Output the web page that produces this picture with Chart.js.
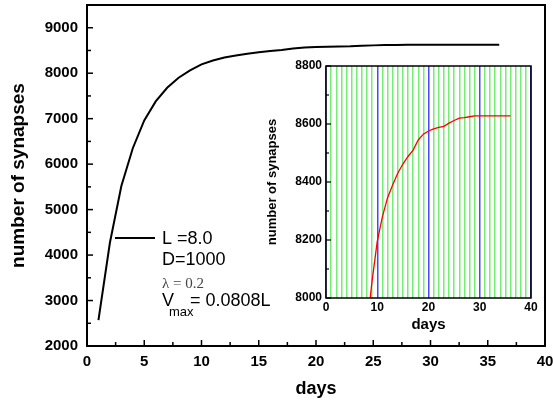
<!DOCTYPE html>
<html>
<head>
<meta charset="utf-8">
<script src="https://cdn.jsdelivr.net/npm/chart.js@4.4.1/dist/chart.umd.min.js"></script>
<style>
  html, body { margin: 0; padding: 0; background: #fff; }
  #wrap { position: relative; width: 553px; height: 403px; }
  #mainChart { position: absolute; left: 0; top: 0; }
  #insetChart { position: absolute; left: 262px; top: 56px; }
</style>
</head>
<body>
<div id="wrap">
  <canvas id="mainChart" width="553" height="403"></canvas>
  <canvas id="insetChart" width="280" height="282"></canvas>
</div>
<script>
// simulated synapse count per day
const days = [1, 2, 3, 4, 5, 6, 7, 8, 9, 10, 11, 12, 13, 14, 15, 16, 17, 18,
              19, 20, 21, 22, 23, 24, 25, 26, 27, 28, 29, 30, 31, 32, 33, 34, 35, 36];
const synapses = [2570, 4270, 5520, 6350, 6960, 7380, 7680, 7900, 8060, 8195, 8280, 8345,
                  8390, 8430, 8462, 8488, 8510, 8545, 8565, 8576, 8583, 8588, 8592, 8603,
                  8612, 8620, 8622, 8625, 8628, 8628, 8628, 8628, 8628, 8628, 8628, 8628];

// axis ranges
const mainX = [0, 40];
const mainY = [2000, 9500];
const insetX = [0, 40];
const insetY = [8000, 8800];

// legend text
const legendLines = ['L =8.0', 'D=1000', 'λ = 0.2', '= 0.0808L'];

const FONT = 'Arial, "Liberation Sans", sans-serif';
Chart.defaults.font.family = FONT;
Chart.defaults.color = '#000';

const points = days.map((d, i) => ({ x: d, y: synapses[i] }));

// box around the plot area plus tick marks pointing inwards
const framePlugin = {
  id: 'frame',
  afterDatasetsDraw(chart, args, opts) {
    const ctx = chart.ctx;
    const a = chart.chartArea;
    ctx.save();
    ctx.strokeStyle = '#000';
    ctx.lineWidth = opts.lineWidth;
    ctx.lineCap = 'butt';
    (opts.axes || []).forEach(function(ax) {
      const s = chart.scales[ax.id];
      s.ticks.forEach(function(t) {
        const len = (t.value % ax.major === 0) ? ax.majorLen : ax.minorLen;
        const p = s.getPixelForValue(t.value);
        ctx.beginPath();
        if (ax.id === 'x') {
          ctx.moveTo(p, a.bottom);
          ctx.lineTo(p, a.bottom - len);
        } else {
          ctx.moveTo(a.left, p);
          ctx.lineTo(a.left + len, p);
        }
        ctx.lineWidth = ax.width;
        ctx.stroke();
      });
    });
    ctx.lineWidth = opts.lineWidth;
    ctx.strokeRect(a.left, a.top, a.right - a.left, a.bottom - a.top);
    ctx.restore();
  }
};

// parameter block with a sample of the curve line
const paramsPlugin = {
  id: 'params',
  afterDraw(chart) {
    const ctx = chart.ctx;
    ctx.save();
    ctx.strokeStyle = '#000';
    ctx.lineWidth = 2;
    ctx.beginPath();
    ctx.moveTo(115, 238);
    ctx.lineTo(155, 238);
    ctx.stroke();

    ctx.fillStyle = '#000';
    ctx.textBaseline = 'middle';
    ctx.textAlign = 'left';
    ctx.font = '18px ' + FONT;
    ctx.fillText(legendLines[0], 162, 239);
    ctx.fillText(legendLines[1], 162, 260);

    ctx.fillStyle = '#444';
    ctx.font = '15px "Times New Roman", "Liberation Serif", serif';
    ctx.fillText(legendLines[2], 162, 284);

    ctx.fillStyle = '#000';
    ctx.font = '18px ' + FONT;
    ctx.fillText('V', 162, 301);
    ctx.font = '13px ' + FONT;
    ctx.fillText('max', 169, 312);
    ctx.font = '18px ' + FONT;
    ctx.fillText(legendLines[3], 190, 301);
    ctx.restore();
  }
};

function fixSize(prop, size) {
  return function(scale) {
    scale[prop] = size;
    scale.paddingLeft = 0;
    scale.paddingRight = 0;
    scale.paddingTop = 0;
    scale.paddingBottom = 0;
  };
}

new Chart(document.getElementById('mainChart'), {
  type: 'line',
  data: {
    datasets: [{
      data: points,
      borderColor: '#000',
      borderWidth: 2,
      pointRadius: 0,
      tension: 0,
      fill: false
    }]
  },
  options: {
    responsive: false,
    animation: false,
    layout: { padding: { left: 0, right: 8, top: 5, bottom: 0 } },
    plugins: {
      legend: { display: false },
      tooltip: { enabled: false },
      frame: {
        lineWidth: 2,
        axes: [
          { id: 'x', major: 5, majorLen: 6, minorLen: 4, width: 1.5 },
          { id: 'y', major: 1000, majorLen: 6, minorLen: 4, width: 1.5 }
        ]
      }
    },
    scales: {
      x: {
        type: 'linear',
        min: mainX[0],
        max: mainX[1],
        afterFit: fixSize('height', 57),
        grid: { display: false, drawTicks: false },
        border: { display: false },
        ticks: {
          stepSize: 2.5,
          autoSkip: false,
          maxRotation: 0,
          padding: 7,
          font: { size: 15, weight: 'bold' },
          callback: v => (v % 5 === 0 ? v : '')
        },
        title: {
          display: true,
          text: 'days',
          font: { size: 18, weight: 'bold' },
          padding: { top: 0, bottom: 3 }
        }
      },
      y: {
        min: mainY[0],
        max: mainY[1],
        afterFit: fixSize('width', 87),
        grid: { display: false, drawTicks: false },
        border: { display: false },
        ticks: {
          stepSize: 500,
          autoSkip: false,
          padding: 9,
          font: { size: 15, weight: 'bold' },
          callback: v => (v % 1000 === 0 ? v : '')
        },
        title: {
          display: true,
          text: 'number of synapses',
          font: { size: 19, weight: 'bold' },
          padding: { top: 7, bottom: 0 }
        }
      }
    }
  },
  plugins: [framePlugin, paramsPlugin]
});

new Chart(document.getElementById('insetChart'), {
  type: 'line',
  data: {
    datasets: [{
      data: points,
      borderColor: '#ff0000',
      borderWidth: 1.3,
      pointRadius: 0,
      tension: 0,
      fill: false
    }]
  },
  options: {
    responsive: false,
    animation: false,
    layout: { padding: { left: 0, right: 11, top: 10, bottom: 0 } },
    plugins: {
      legend: { display: false },
      tooltip: { enabled: false },
      frame: {
        lineWidth: 1.5,
        axes: [
          { id: 'y', major: 200, majorLen: 5, minorLen: 3, width: 1.2 }
        ]
      }
    },
    scales: {
      x: {
        type: 'linear',
        min: insetX[0],
        max: insetX[1],
        afterFit: fixSize('height', 40),
        grid: {
          display: true,
          drawTicks: false,
          color: c => (c.tick.value % 10 === 0 ? '#4848ff' : '#72ee72'),
          lineWidth: 1.5
        },
        border: { display: false },
        ticks: {
          stepSize: 1,
          autoSkip: false,
          maxRotation: 0,
          padding: 2,
          font: { size: 12, weight: 'bold' },
          callback: v => (v % 10 === 0 ? v : '')
        },
        title: {
          display: true,
          text: 'days',
          font: { size: 15, weight: 'bold' },
          padding: { top: 0, bottom: 4 }
        }
      },
      y: {
        min: insetY[0],
        max: insetY[1],
        afterFit: fixSize('width', 64),
        grid: { display: false, drawTicks: false },
        border: { display: false },
        ticks: {
          stepSize: 100,
          autoSkip: false,
          padding: 4,
          font: { size: 12, weight: 'bold' },
          callback: v => (v % 200 === 0 ? v : '')
        },
        title: {
          display: true,
          text: 'number of synapses',
          font: { size: 13, weight: 'bold' },
          padding: { top: 3, bottom: 0 }
        }
      }
    }
  },
  plugins: [framePlugin]
});
</script>
</body>
</html>
